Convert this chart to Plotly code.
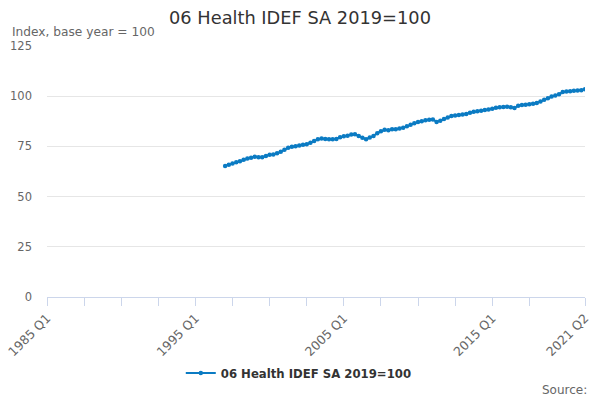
import plotly.graph_objects as go

# quarters on the axis: 1985 Q1 .. 2021 Q2
quarters = [f"{y} Q{q}" for y in range(1985, 2022) for q in range(1, 5)][:146]

# series starts 1997 Q1
first_quarter = "1997 Q1"
values = [
    65.3, 65.9, 66.5, 67.1, 67.6, 68.4, 69.0, 69.4,
    69.9, 69.6, 69.6, 70.2, 70.9, 71.0, 71.6, 72.3,
    73.3, 74.3, 74.8, 75.1, 75.4, 75.8, 76.1, 76.8,
    77.7, 78.5, 78.9, 78.7, 78.6, 78.5, 78.7, 79.6,
    80.0, 80.3, 80.9, 81.0, 80.2, 79.3, 78.6, 79.4,
    80.2, 81.6, 82.5, 83.3, 83.0, 83.5, 83.6, 83.9,
    84.3, 85.0, 85.8, 86.5, 87.2, 87.5, 88.0, 88.3,
    88.4, 87.2, 87.8, 88.6, 89.4, 90.1, 90.4, 90.6,
    90.9, 91.1, 91.8, 92.2, 92.5, 92.8, 93.1, 93.4,
    93.8, 94.2, 94.5, 94.6, 94.8, 94.5, 94.1, 95.3,
    95.6, 95.8, 96.0, 96.2, 96.6, 97.3, 98.2, 99.0,
    99.8, 100.4, 101.0, 102.1, 102.4, 102.5, 102.7, 102.8,
    103.0, 103.5,
]

labelled = ["1985 Q1", "1995 Q1", "2005 Q1", "2015 Q1", "2021 Q2"]
tick_quarters = quarters[0:140:10] + ["2021 Q2"]

start = quarters.index(first_quarter)
series_x = quarters[start:start + len(values)]

blue = "#0b7bc3"
grey = "#666666"

fig = go.Figure()
fig.add_trace(go.Scatter(
    x=series_x, y=values, mode="lines+markers",
    name="06 Health IDEF SA 2019=100",
    line=dict(color=blue, width=2),
    marker=dict(color=blue, size=4.5, symbol="circle"),
))

fig.update_layout(
    width=600, height=400,
    margin=dict(l=47, r=15, t=46, b=103),
    plot_bgcolor="white", paper_bgcolor="white",
    font=dict(family="DejaVu Sans", color=grey, size=11),
    title=dict(text="06 Health IDEF SA 2019=100", x=0.5, xanchor="center",
               y=0.955, yanchor="middle",
               font=dict(size=17.8, color="#333333")),
    showlegend=True,
    legend=dict(orientation="h", x=0.468, xanchor="center", y=-0.303, yanchor="middle",
                itemwidth=30,
                font=dict(size=11.7, color="#333333", weight="bold")),
    annotations=[
        dict(text="Index, base year = 100", xref="paper", yref="paper",
             x=-0.069, y=1.056, xanchor="left", yanchor="middle",
             showarrow=False, font=dict(size=12.2, color=grey)),
        dict(text="Source:", xref="paper", yref="paper",
             x=1.008, y=-0.37, xanchor="right", yanchor="middle",
             showarrow=False, font=dict(size=12, color=grey)),
    ],
)

fig.update_xaxes(
    type="category", categoryorder="array", categoryarray=quarters,
    range=[0, len(quarters) - 1], automargin=False,
    tickmode="array", tickvals=tick_quarters,
    ticktext=[q if q in labelled else "" for q in tick_quarters],
    tickangle=-45, ticks="outside", ticklen=8, tickcolor="#ccd6eb",
    showline=True, linecolor="#ccd6eb", linewidth=1,
    showgrid=False, zeroline=False,
    tickfont=dict(size=12.5, color=grey),
)

fig.update_yaxes(
    range=[0, 125], tickvals=[0, 25, 50, 75, 100, 125],
    automargin=False,
    showgrid=True, gridcolor="#e6e6e6", gridwidth=1,
    zeroline=False, showline=False, ticks="",
    ticklabelstandoff=14,
    tickfont=dict(size=11.5, color=grey),
)

fig.write_html("out.html", config={"displayModeBar": False},
               post_script="document.body.style.margin = '0px';")
